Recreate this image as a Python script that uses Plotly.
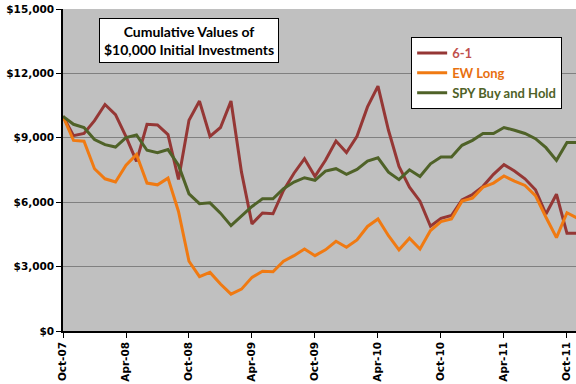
import plotly.graph_objects as go

# Monthly index: 0 = Oct-07 ... 49 = Nov-11
months = list(range(50))
tick_pos = [0, 6, 12, 18, 24, 30, 36, 42, 48]
tick_labels = ["Oct-07", "Apr-08", "Oct-08", "Apr-09", "Oct-09", "Apr-10", "Oct-10", "Apr-11", "Oct-11"]

six_one = [10000, 9100, 9200, 9800, 10550, 10080, 9050, 7900, 9630, 9600,
           9150, 7060, 9820, 10710, 9070, 9480, 10710, 7400, 4990, 5500,
           5460, 6550, 7350, 8030, 7200, 7950, 8850, 8310, 9070, 10440,
           11410, 9350, 7670, 6700, 6050, 4880, 5250, 5380, 6110, 6360,
           6740, 7300, 7750, 7450, 7090, 6580, 5450, 6370, 4550, 4550]

ew_long = [10000, 8880, 8840, 7560, 7090, 6940, 7720, 8220, 6890, 6810,
           7120, 5570, 3250, 2530, 2730, 2190, 1720, 1950, 2500, 2780,
           2760, 3250, 3510, 3820, 3510, 3780, 4180, 3900, 4240, 4870,
           5220, 4440, 3780, 4320, 3820, 4680, 5100, 5220, 6050, 6190,
           6700, 6890, 7220, 6980, 6780, 6310, 5300, 4350, 5510, 5250]

spy = [10000, 9630, 9480, 8920, 8680, 8570, 9010, 9130, 8420, 8310,
       8450, 7720, 6390, 5930, 5970, 5490, 4910, 5350, 5800, 6160,
       6160, 6630, 6940, 7140, 7020, 7450, 7560, 7300, 7530, 7920,
       8070, 7400, 7050, 7510, 7200, 7790, 8110, 8110, 8650, 8880,
       9200, 9200, 9480, 9350, 9200, 8960, 8540, 7950, 8780, 8780]

y_ticks = [0, 3000, 6000, 9000, 12000, 15000]
y_labels = ["$0", "$3,000", "$6,000", "$9,000", "$12,000", "$15,000"]

series = [
    ("6-1", six_one, "#953735", "#C0504D"),
    ("EW Long", ew_long, "#F07A12", "#E8700E"),
    ("SPY Buy and Hold", spy, "#4F6228", "#4F6228"),
]

fig = go.Figure()
for name, vals, lc, tc in series:
    fig.add_trace(go.Scatter(
        x=months, y=vals, mode="lines",
        name=f"<span style='color:{tc}'>{name}</span>",
        line=dict(color=lc, width=3),
    ))

axis_font = dict(family="DejaVu Sans", size=10.5, color="black", weight=700)

fig.update_layout(
    width=576, height=384,
    margin=dict(l=63, r=0, t=9, b=53),
    paper_bgcolor="white",
    plot_bgcolor="#C0C0C0",
    showlegend=True,
    legend=dict(
        x=0.973, y=0.913, xanchor="right", yanchor="top",
        bgcolor="white", bordercolor="black", borderwidth=1,
        font=dict(family="Lato", size=13, weight=700),
        tracegroupgap=0, itemwidth=30,
    ),
    xaxis=dict(
        range=[0, 48.86], automargin=False,
        tickmode="array", tickvals=tick_pos, ticktext=tick_labels,
        tickangle=-90, tickfont=axis_font,
        showgrid=False, zeroline=False,
        showline=True, linecolor="black", linewidth=1.5,
        ticks="outside", ticklen=5, tickcolor="black",
    ),
    yaxis=dict(
        range=[0, 15000], automargin=False,
        tickmode="array", tickvals=y_ticks, ticktext=y_labels,
        tickfont=axis_font,
        showgrid=True, gridcolor="#808080", gridwidth=1,
        zeroline=False,
        showline=True, linecolor="black", linewidth=1.5,
        ticks="outside", ticklen=5, tickcolor="black",
    ),
    annotations=[dict(
        xref="paper", yref="paper", x=0.2456, y=0.902,
        xanchor="center", yanchor="middle",
        text="<b>Cumulative Values of<br>$10,000 Initial Investments</b>",
        showarrow=False, align="center",
        font=dict(family="Lato", size=14, color="black"),
        bgcolor="white", bordercolor="black", borderwidth=1, borderpad=4,
    )],
)

fig.write_html("out.html", config={"displayModeBar": False},
               post_script="document.body.style.margin='0';")
